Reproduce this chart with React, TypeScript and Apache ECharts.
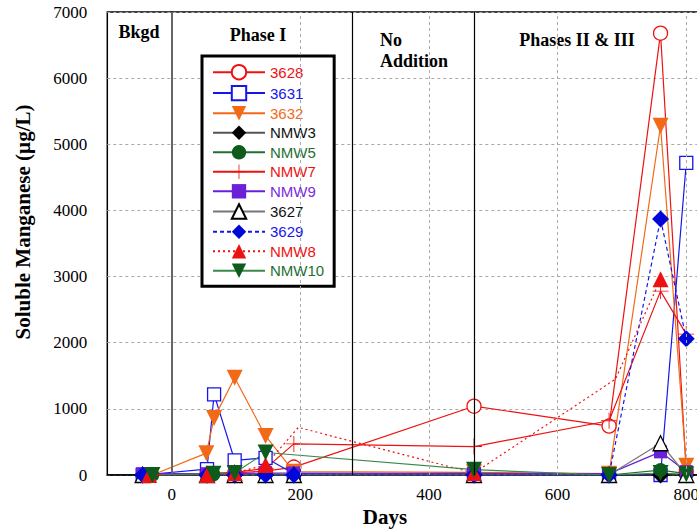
import React, { useEffect, useRef } from "react";
import * as echarts from "echarts";

// ---- data (days, soluble Mn in µg/L) ----
const s3628: number[][] = [[-40, 0], [55, 20], [98, 30], [146, 60], [190, 120], [470, 1040], [680, 740], [760, 6680], [800, 60]];
const s3631: number[][] = [[-45, 0], [55, 90], [66, 1220], [98, 220], [146, 260], [190, 20], [470, 10], [680, 0], [760, 0], [800, 4720]];
const s3632: number[][] = [[-30, 0], [54, 330], [66, 860], [98, 1470], [146, 590], [190, 50], [470, 40], [680, 20], [760, 5280], [800, 140]];
const sNMW3: number[][] = [[-45, 0], [55, 0], [98, 0], [146, 0], [190, 0], [470, 0], [680, 0], [760, 0], [800, 0]];
const sNMW5: number[][] = [[-30, 0], [65, 10], [98, 10], [146, 20], [190, 10], [470, 30], [680, 0], [760, 75], [800, 20]];
const sNMW7: number[][] = [[-30, 0], [55, 20], [98, 40], [146, 100], [190, 470], [470, 430], [680, 820], [760, 2780], [800, 2130]];
const sNMW9: number[][] = [[-45, 20], [55, 20], [98, 20], [146, 30], [190, 30], [470, 20], [680, 20], [760, 350], [800, 50]];
const s3627: number[][] = [[-45, 0], [55, 0], [98, 0], [146, 0], [190, 0], [470, 0], [680, 0], [760, 480], [800, 0]];
const s3629: number[][] = [[-45, 0], [55, 0], [98, 0], [146, 0], [190, 0], [470, 0], [680, 0], [760, 3870], [800, 2060]];
const sNMW8: number[][] = [[-35, 0], [55, 0], [98, 30], [146, 150], [197, 720], [470, 30], [690, 1450], [760, 2960]];
const sNMW8Hidden: number[] = [197, 690]; // sample days drawn without marker
const sNMW10: number[][] = [[-30, 0], [65, 20], [98, 30], [146, 340], [470, 80], [680, 0], [760, 30], [800, 10]];

const xLabelDays = [0, 200, 400, 600, 800];
const xGridDays = [200, 400, 600, 800];
const phaseBoundaries = [0, 280, 470];

const PLUS = "path://M9.45,0h1.1v20h-1.1z M0,9.45h20v1.1h-20z";

const RED = "#ee1111";
const BLUE = "#1515ee";
const ORANGE = "#f26a18";
const GREEN = "#1d7030";
const PURPLE = "#6a1fd8";

type Def = {
  name: string;
  data: number[][];
  symbol: string;
  size: number;
  rotate?: number;
  color: string;
  fill?: string;
  line: string;
  lineType?: any;
  text: string;
};

const defs: Def[] = [
  { name: "3628", data: s3628, symbol: "circle", size: 14, color: RED, fill: "#fff", line: RED, text: RED },
  { name: "3631", data: s3631, symbol: "rect", size: 13, color: BLUE, fill: "#fff", line: BLUE, text: BLUE },
  { name: "3632", data: s3632, symbol: "triangle", size: 16, rotate: 180, color: ORANGE, line: ORANGE, text: ORANGE },
  { name: "NMW3", data: sNMW3, symbol: "diamond", size: 17, color: "#000", line: "#555", text: "#111" },
  { name: "NMW5", data: sNMW5, symbol: "circle", size: 14, color: "#0d5c1c", line: GREEN, text: GREEN },
  { name: "NMW7", data: sNMW7, symbol: PLUS, size: 16, color: RED, line: RED, text: RED },
  { name: "NMW9", data: sNMW9, symbol: "rect", size: 13, color: PURPLE, line: PURPLE, text: "#7a2ae0" },
  { name: "3627", data: s3627, symbol: "triangle", size: 15, color: "#000", fill: "#fff", line: "#777", text: "#111" },
  { name: "3629", data: s3629, symbol: "diamond", size: 17, color: "#0008d8", line: BLUE, lineType: [4, 3], text: BLUE },
  { name: "NMW8", data: sNMW8, symbol: "triangle", size: 16, color: RED, line: RED, lineType: [2, 3], text: RED },
  { name: "NMW10", data: sNMW10, symbol: "triangle", size: 16, rotate: 180, color: "#0d5c1c", line: "#3b8a4c", text: GREEN },
];

export default function App() {
  const ref = useRef<HTMLDivElement>(null);
  useEffect(() => {
    if (!ref.current) return;
    const chart = echarts.init(ref.current, null, { renderer: "svg" });
    const serif = "Liberation Serif, Times New Roman, serif";
    const sans = "Liberation Sans, Arial, sans-serif";

    const series: any[] = defs.map((d) => ({
      name: d.name,
      type: "line",
      data: d.data.map((p) =>
        d.name === "NMW8" && sNMW8Hidden.includes(p[0])
          ? { value: p, symbol: "none" }
          : p
      ),
      symbol: d.symbol,
      symbolSize: d.size,
      symbolRotate: d.rotate || 0,
      showAllSymbol: true,
      clip: true,
      lineStyle: { color: d.line, width: 1.2, type: d.lineType || "solid" },
      itemStyle: d.fill
        ? { color: d.fill, borderColor: d.color, borderWidth: 1.3 }
        : { color: d.color, borderWidth: 0 },
      emphasis: { disabled: true },
    }));

    series.unshift({
      name: "__grid",
      type: "line",
      data: [],
      silent: true,
      z: 1,
      markLine: {
        silent: true,
        symbol: "none",
        label: { show: false },
        lineStyle: { color: "#aaa", type: [3, 3], width: 1 },
        data: xGridDays.map((x) => ({ xAxis: x })),
      },
    });
    series.push({
      name: "__phase",
      type: "line",
      data: [],
      silent: true,
      z: 5,
      markLine: {
        silent: true,
        symbol: "none",
        label: { show: false },
        data: phaseBoundaries.map((x, i) => ({
          xAxis: x,
          lineStyle: { color: i === 0 ? "#666" : "#000", width: i === 0 ? 2 : 1.2, type: "solid" },
        })),
      },
    });

    const option: any = {
      animation: false,
      backgroundColor: "#fff",
      grid: {
        left: 107.3,
        top: 12,
        width: 643.3,
        height: 463,
        show: true,
        borderColor: "#000",
        borderWidth: 1.5,
        backgroundColor: "transparent",
        containLabel: false,
        outerBoundsMode: "none",
      },
      xAxis: {
        type: "value",
        min: -100,
        max: 900,
        interval: 100,
        axisLine: { show: true, lineStyle: { color: "#000", width: 1.5 } },
        axisTick: { show: false },
        splitLine: { show: false },
        axisLabel: {
          margin: 11,
          fontFamily: serif,
          fontSize: 17,
          color: "#000",
          hideOverlap: false,
          formatter: (v: number) => (xLabelDays.includes(v) ? String(v) : ""),
        },
      },
      yAxis: {
        type: "value",
        min: 0,
        max: 7000,
        interval: 1000,
        axisLine: { show: true, lineStyle: { color: "#000", width: 1.5 } },
        axisTick: { show: false },
        splitLine: { show: true, lineStyle: { color: "#aaa", type: [3, 3], width: 1 } },
        axisLabel: { margin: 20, fontFamily: serif, fontSize: 17, color: "#000", formatter: (v: number) => String(v) },
      },
      legend: {
        show: true,
        left: 202,
        top: 56,
        orient: "vertical",
        backgroundColor: "#fff",
        borderColor: "#000",
        borderWidth: 3,
        padding: [8, 10, 8, 10],
        itemWidth: 52,
        itemHeight: 18,
        itemGap: 4.5,
        textStyle: { fontFamily: sans, fontSize: 15 },
        data: defs.map((d) => ({ name: d.name, textStyle: { color: d.text } })),
      },
      graphic: [
        { type: "text", x: 23, y: 222, rotation: Math.PI / 2, style: { text: "Soluble Manganese (µg/L)", fontFamily: serif, fontWeight: "bold", fontSize: 21, fill: "#000", align: "center", verticalAlign: "middle" } },
        { type: "text", x: 385, y: 517, style: { text: "Days", fontFamily: serif, fontWeight: "bold", fontSize: 21, fill: "#000", align: "center", verticalAlign: "middle" } },
        { type: "text", x: 139, y: 32, style: { text: "Bkgd", fontFamily: serif, fontWeight: "bold", fontSize: 18, fill: "#000", align: "center", verticalAlign: "middle" } },
        { type: "text", x: 258, y: 35, style: { text: "Phase I", fontFamily: serif, fontWeight: "bold", fontSize: 18, fill: "#000", align: "center", verticalAlign: "middle" } },
        { type: "text", x: 380, y: 40, style: { text: "No", fontFamily: serif, fontWeight: "bold", fontSize: 18, fill: "#000", align: "left", verticalAlign: "middle" } },
        { type: "text", x: 380, y: 61, style: { text: "Addition", fontFamily: serif, fontWeight: "bold", fontSize: 18, fill: "#000", align: "left", verticalAlign: "middle" } },
        { type: "text", x: 577, y: 40, style: { text: "Phases II & III", fontFamily: serif, fontWeight: "bold", fontSize: 18, fill: "#000", align: "center", verticalAlign: "middle" } },
      ],
      series,
    };
    chart.setOption(option);
    return () => chart.dispose();
  }, []);
  return (
    <div
      ref={ref}
      style={{ position: "fixed", left: 0, top: 0, width: 697, height: 529, background: "#fff" }}
    />
  );
}
